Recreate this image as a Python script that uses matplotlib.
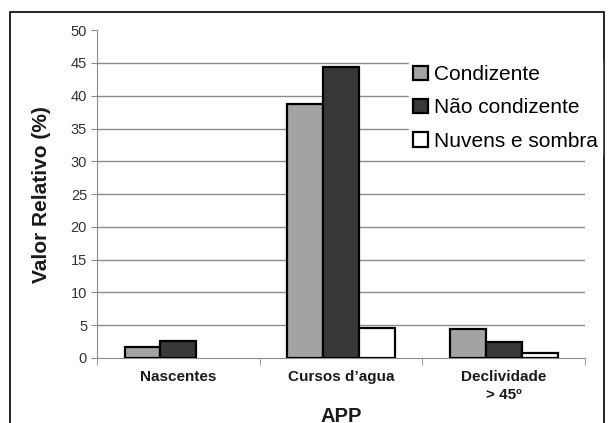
import matplotlib.pyplot as plt
from matplotlib.patches import Rectangle
import numpy as np

plt.rcParams['font.family'] = ['Liberation Sans', 'DejaVu Sans']

categories = ['Nascentes', "Cursos d\u2019agua", 'Declividade\n> 45º']
condizente = [1.7, 38.7, 4.4]
nao_condizente = [2.6, 44.4, 2.5]
nuvens_sombra = [0.0, 4.5, 0.7]

series = [
    ('Condizente', condizente, '#a3a3a3'),
    ('Não condizente', nao_condizente, '#383838'),
    ('Nuvens e sombra', nuvens_sombra, 'white'),
]

fig = plt.figure(figsize=(6.09, 4.23), dpi=100)
ax = fig.add_axes([0.159, 0.1537, 0.802, 0.775])

# outer frame
fig.patches.append(Rectangle((10 / 609, -0.1), 594 / 609, 1 - 12 / 423 + 0.1,
                             transform=fig.transFigure, fill=False,
                             edgecolor='black', linewidth=1.2))

x = np.arange(len(categories))
w = 0.22
for i, (name, vals, col) in enumerate(series):
    heights = [v if v > 0 else np.nan for v in vals]
    ax.bar(x + (i - 1) * w, heights, width=w, color=col, edgecolor='black',
           linewidth=1.6, label=name, zorder=3)

ax.set_xlim(-0.5, 2.5)
ax.set_ylim(0, 50)
ax.set_yticks(range(0, 51, 5))
for yv in range(5, 50, 5):
    ax.axhline(yv, color='#8c8c8c', linewidth=1, zorder=1)

ax.set_xticks(x)
ax.set_xticklabels(categories, fontweight='bold', fontsize=11, color='#1a1a1a',
                   linespacing=1.3)
ax.set_xticks([-0.5, 0.5, 1.5, 2.5], minor=True)
ax.tick_params(axis='x', which='major', length=0, pad=9)
ax.tick_params(axis='x', which='minor', length=5, color='#8c8c8c', direction='out')
ax.tick_params(axis='y', length=4, color='#8c8c8c', labelsize=10.5, pad=3,
               labelcolor='#333333')

for s in ['top', 'right']:
    ax.spines[s].set_visible(False)
ax.spines['left'].set_color('#8c8c8c')
ax.spines['bottom'].set_color('#8c8c8c')

ax.set_ylabel('Valor Relativo (%)', fontsize=15, fontweight='bold', labelpad=14,
              color='#1a1a1a')
ax.set_xlabel('APP', fontsize=14.5, fontweight='bold', labelpad=4, color='#1a1a1a')

leg = fig.legend(loc='upper left', bbox_to_anchor=(409 / 609, 1 - 61 / 423),
                 frameon=True, fontsize=15, handlelength=0.7, handleheight=0.7,
                 handletextpad=0.3, labelspacing=0.68, borderpad=0.2,
                 borderaxespad=0)
leg.get_frame().set_edgecolor('white')
leg.get_frame().set_facecolor('white')
leg.get_frame().set_alpha(1)
leg.get_frame().set_boxstyle('square', pad=0)

fig.savefig('out.png', dpi=100)
